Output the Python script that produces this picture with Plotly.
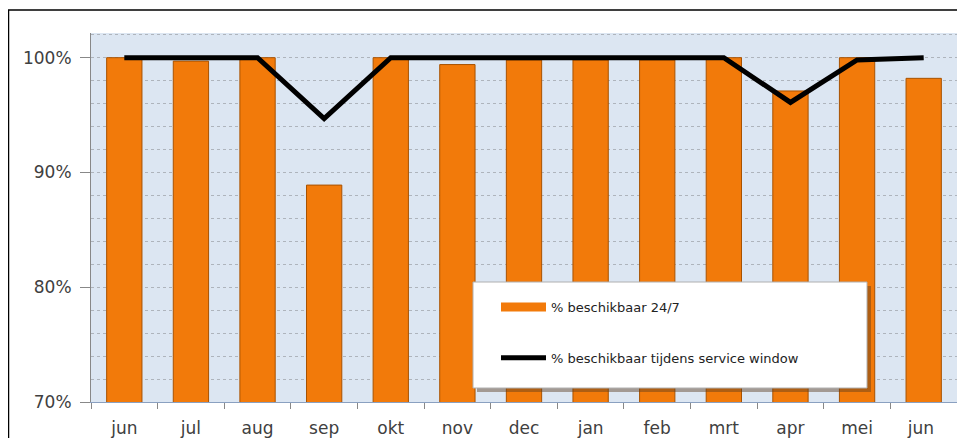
import plotly.graph_objects as go

months = ["jun", "jul", "aug", "sep", "okt", "nov", "dec", "jan", "feb", "mrt", "apr", "mei", "jun "]
avail_247 = [100.0, 99.7, 100.0, 88.9, 100.0, 99.4, 99.8, 99.8, 99.8, 100.0, 97.1, 100.0, 98.2]
avail_window = [100.0, 100.0, 100.0, 94.7, 100.0, 100.0, 100.0, 100.0, 100.0, 100.0, 96.1, 99.8, 100.0]
y_ticks = [70, 80, 90, 100]
y_tick_labels = ["70%", "80%", "90%", "100%"]

# page body has an 8px margin: figure origin sits at screen (8, 8)
OFF = 8
W, H = 965 - OFF, 438 - OFF
# plot area on screen: x 91..957, y 33..402
L, R, T = 91 - OFF, 965 - 957, 33 - OFF
B = H - (402 - OFF)
pw, ph = W - L - R, H - T - B

def px_x(x):
    return (x - 91) / pw

def px_y(y):
    return (402 - y) / ph

fig = go.Figure()
fig.add_trace(go.Bar(
    x=months, y=avail_247, name="% beschikbaar 24/7",
    width=0.53,
    marker=dict(color="#F27A0A", line=dict(color="#A85200", width=1)),
    showlegend=False,
))
# legend entry for the bars, drawn as a wide orange swatch like the original
fig.add_trace(go.Scatter(
    x=[None], y=[None], name="% beschikbaar 24/7",
    mode="lines", line=dict(color="#F27A0A", width=9),
    legendgroup="a",
))
fig.add_trace(go.Scatter(
    x=months, y=avail_window, name="% beschikbaar tijdens service window",
    mode="lines", line=dict(color="#000000", width=5),
    legendgroup="b",
))

fig.update_layout(
    width=W, height=H,
    margin=dict(l=L, r=R, t=T, b=B, autoexpand=False),
    paper_bgcolor="white",
    plot_bgcolor="#DCE6F2",
    font=dict(family="DejaVu Sans", color="#404040"),
    bargap=0.47,
    showlegend=True,
    legend=dict(
        x=px_x(496), y=px_y(292), xanchor="left", yanchor="top",
        bgcolor="rgba(0,0,0,0)",
        font=dict(size=13, color="#222222", family="DejaVu Sans"),
        tracegroupgap=31, itemwidth=45, traceorder="grouped",
    ),
    xaxis=dict(
        type="category", tickson="boundaries", ticks="outside", ticklen=6,
        tickcolor="#888888", showline=True, linecolor="#8aa0c0", linewidth=1,
        tickfont=dict(size=17, color="#404040"), ticklabelstandoff=11,
        showgrid=False, automargin=False,
    ),
    yaxis=dict(
        range=[70, 102.15], tickmode="array", tickvals=y_ticks, ticktext=y_tick_labels,
        ticks="outside", ticklen=10, tickcolor="#888888",
        showline=True, linecolor="#888888", linewidth=1,
        tickfont=dict(size=17, color="#404040"), ticklabelstandoff=5,
        showgrid=True, gridcolor="#aeb4bc", griddash="dot", gridwidth=1,
        minor=dict(dtick=2, tick0=70, showgrid=True, gridcolor="#aeb4bc", griddash="dot", gridwidth=1, ticks=""),
        zeroline=False, automargin=False,
    ),
    shapes=[
        dict(type="rect", xref="paper", yref="paper",
             x0=px_x(8.5), x1=px_x(990), y0=px_y(460), y1=px_y(10),
             line=dict(color="#000000", width=1.5), fillcolor="rgba(0,0,0,0)", layer="above"),
        dict(type="rect", xref="paper", yref="paper",
             x0=px_x(477), x1=px_x(871), y0=px_y(392), y1=px_y(286),
             line=dict(width=0), fillcolor="rgba(90,60,30,0.45)", layer="above"),
        dict(type="rect", xref="paper", yref="paper",
             x0=px_x(473), x1=px_x(867), y0=px_y(388), y1=px_y(282),
             line=dict(color="#b0b0b0", width=1), fillcolor="white", layer="above"),
    ],
)

fig.write_html("out.html")
